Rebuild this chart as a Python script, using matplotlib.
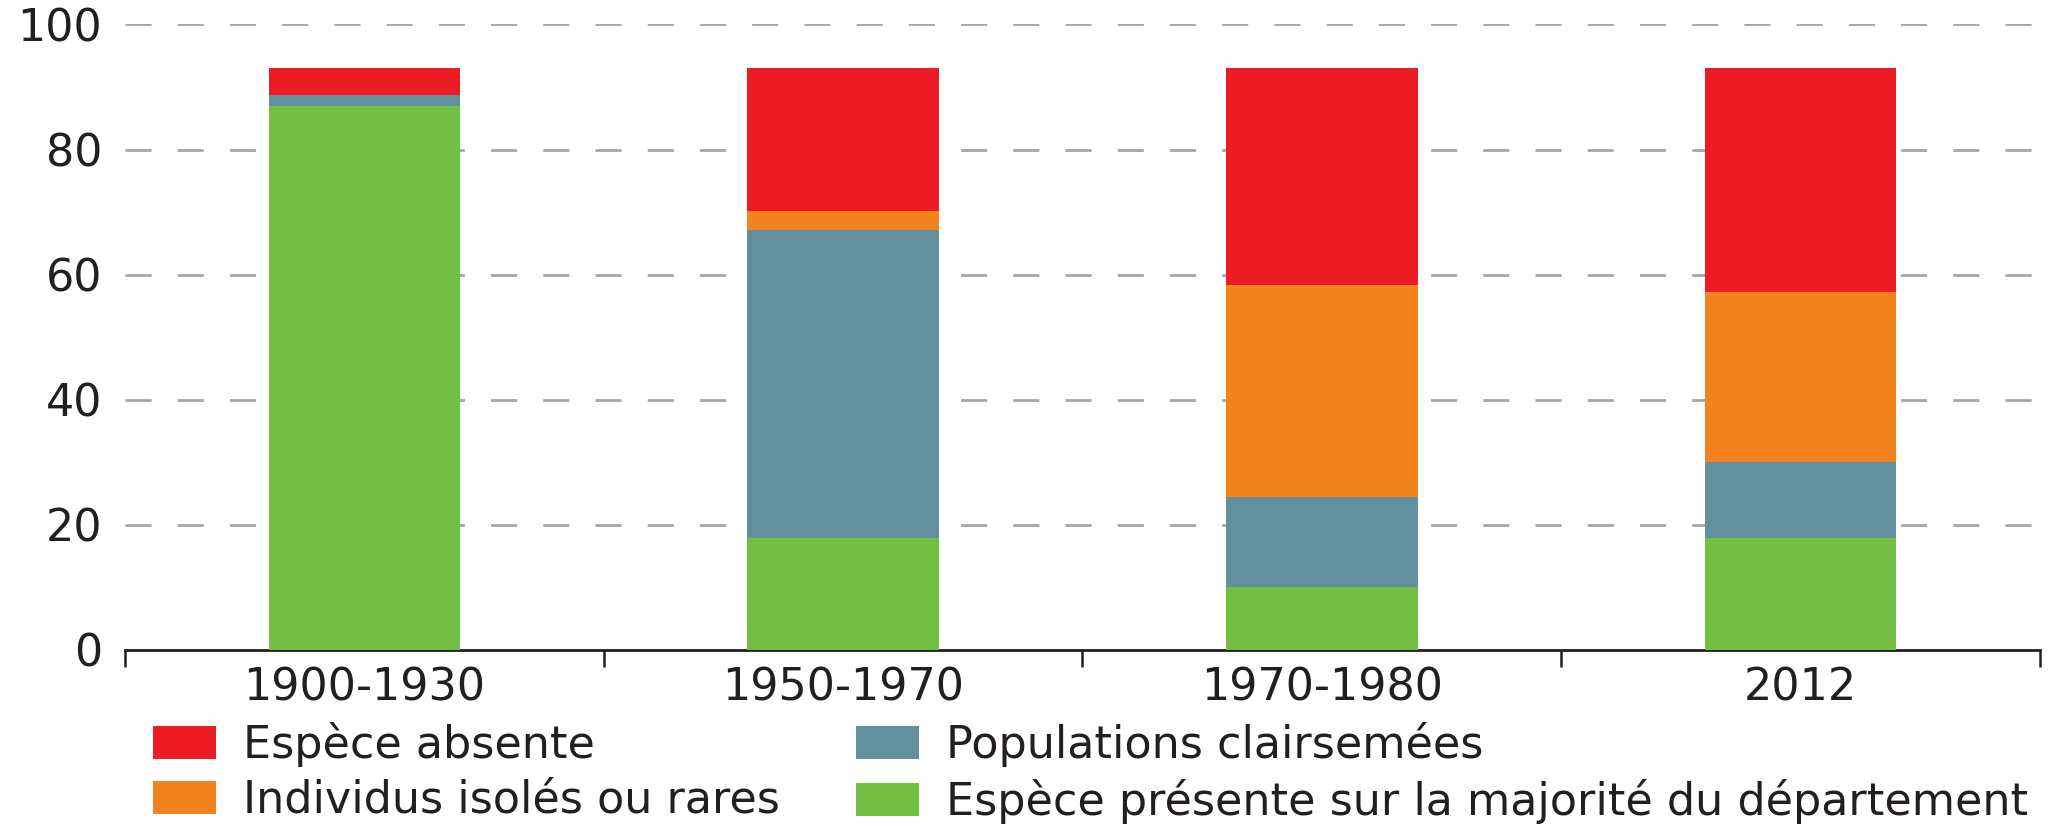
import matplotlib
matplotlib.use("Agg")
import matplotlib.pyplot as plt
import numpy as np

# values (percent of the department)
periods = ["1900-1930", "1950-1970", "1970-1980", "2012"]
presente = [86.9, 17.9, 10.0, 17.9]
clairsemees = [1.8, 49.3, 14.4, 12.1]
isoles = [0.0, 2.9, 33.9, 27.2]
absente = [4.4, 23.0, 34.8, 35.9]

labels = ["Espèce absente", "Individus isolés ou rares",
          "Populations clairsemées", "Espèce présente sur la majorité du département"]
colors = {"absente": "#ED1C24", "isoles": "#F3831F",
          "clairsemees": "#618F9D", "presente": "#72BF44"}

txt = "#231F20"
plt.rcParams["font.family"] = ["DejaVu Sans"]
plt.rcParams["font.size"] = 32

fig = plt.figure(figsize=(20.56, 8.26), dpi=100)
ax = fig.add_axes([0.0608, 0.2131, 0.9314, 0.7573])

x = np.arange(len(periods))
w = 0.4
b0 = np.zeros(len(periods))
r_pres = ax.bar(x, presente, w, bottom=b0, color=colors["presente"], zorder=3)
b1 = b0 + np.array(presente)
r_clai = ax.bar(x, clairsemees, w, bottom=b1, color=colors["clairsemees"], zorder=3)
b2 = b1 + np.array(clairsemees)
r_iso = ax.bar(x, isoles, w, bottom=b2, color=colors["isoles"], zorder=3)
b3 = b2 + np.array(isoles)
r_abs = ax.bar(x, absente, w, bottom=b3, color=colors["absente"], zorder=3)

ax.set_xlim(-0.5, len(periods) - 0.5)
ax.set_ylim(0, 100)
ax.set_yticks([0, 20, 40, 60, 80, 100])
ax.set_xticks(x)
ax.set_xticklabels(periods)
ax.set_xticks(np.arange(len(periods) + 1) - 0.5, minor=True)

ax.tick_params(axis="x", which="major", length=0, pad=12, labelsize=32, labelcolor=txt)
ax.tick_params(axis="x", which="minor", length=12, width=1.8, color=txt, direction="out")
ax.tick_params(axis="y", length=0, pad=16.5, labelsize=32, labelcolor=txt)

for s in ["left", "top", "right"]:
    ax.spines[s].set_visible(False)
ax.spines["bottom"].set_color(txt)
ax.spines["bottom"].set_linewidth(2)

# dashed grey grid, about 26px on / 26px off
ax.yaxis.grid(True, color="#A6A6A8", linewidth=2, dashes=(9.4, 9.4), zorder=0)
ax.set_axisbelow(True)
for gl in ax.yaxis.get_gridlines()[:1]:
    gl.set_visible(False)

ax.legend([r_abs, r_iso, r_clai, r_pres], labels, ncol=2, frameon=False,
          loc="upper left", bbox_to_anchor=(153 / 2056, 0.126),
          bbox_transform=fig.transFigure, fontsize=32,
          handlelength=1.42, handleheight=0.79, handletextpad=0.6,
          columnspacing=1.72, labelspacing=0.27, borderpad=0, borderaxespad=0,
          labelcolor=txt)

fig.savefig("out.png", dpi=100)
